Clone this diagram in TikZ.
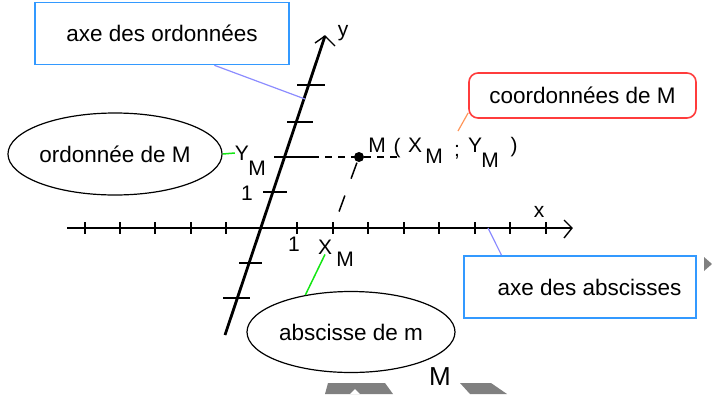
\documentclass[tikz,border=0pt]{standalone}
\usepackage{fontspec}
\setmainfont{Liberation Sans}
\usetikzlibrary{shapes.geometric,calc}
\definecolor{boxblue}{RGB}{51,153,255}
\definecolor{connblue}{RGB}{140,140,255}
\definecolor{boxred}{RGB}{255,60,60}
\definecolor{connorange}{RGB}{255,150,90}
\definecolor{conngreen}{RGB}{20,230,20}
\definecolor{shapegray}{RGB}{128,128,128}
\tikzset{
  bigtxt/.style={font=\fontsize{22.5}{26}\selectfont},
  axtxt/.style={font=\fontsize{21}{24}\selectfont, inner sep=0pt},
  bluebox/.style={draw=boxblue, line width=1.6pt, bigtxt, inner sep=0pt},
  redbox/.style={draw=boxred, line width=1.6pt, rounded corners=9pt, bigtxt, inner sep=0pt},
  ovalbox/.style={ellipse, draw=black, line width=1.2pt, bigtxt, inner sep=0pt},
  bconn/.style={draw=connblue, line width=1.2pt},
  gconn/.style={draw=conngreen, line width=1.5pt},
  oconn/.style={draw=connorange, line width=1.2pt},
  yaxisline/.style={line width=2.8pt},
  xaxisline/.style={line width=2pt},
  tickline/.style={line width=1.6pt},
  headline/.style={line width=1.4pt},
  dashline/.style={line width=1.5pt, dash pattern=on 7pt off 6pt},
  slantdash/.style={line width=1.5pt, dash pattern=on 17pt off 18pt},
}
\begin{document}
\begin{tikzpicture}[x=1pt,y=-1pt]
\useasboundingbox (0,0) rectangle (712,394);
% boxes and ellipses
\node[bluebox, minimum width=254pt, minimum height=62pt] (ord) at (162,33.5) {axe des ordonnées};
\node[redbox, minimum width=227pt, minimum height=45pt] (coord) at (582.5,95.5) {coordonnées de M};
\node[bluebox, minimum width=232pt, minimum height=62pt] (abs) at (580,287) {\hspace{19pt}axe des abscisses};
\node[ovalbox, minimum width=206pt, minimum height=82pt] (ordM) at (115,154) {ordonnée de M};
\node[ovalbox, minimum width=208pt, minimum height=81pt] (absM) at (351,332) {abscisse de m};
% axes
\coordinate (ybot) at (225,335);
\coordinate (ytop) at (325,36);
\coordinate (xleft) at (67,228);
\coordinate (xright) at (572,228);
\draw[yaxisline] (ybot) -- (ytop);
\draw[headline] (315,43) -- (ytop) -- (335,46);
\draw[xaxisline] (xleft) -- (xright);
\draw[headline] (564,220) -- (xright) -- (564,238);
% y ticks
\draw[tickline] (297,85) -- (325,85);
\draw[tickline] (287,122) -- (313,122);
\draw[tickline] (274,157) -- (312,157);
\draw[tickline] (263,192) -- (287,192);
\draw[tickline] (239,263) -- (262,263);
\draw[tickline] (223,298) -- (250,298);
% x ticks
\foreach \t in {85,120,155,191,226,297,333,368,404,439,475,510,546}
  \draw[tickline] (\t,222) -- (\t,234);
% axis labels
\node[axtxt] (ylab) at (343,33) {y};
\node[axtxt] (xlab) at (539,212) {x};
\node[axtxt] (one1) at (247,193) {1};
\node[axtxt] (one2) at (294,244) {1};
\node[axtxt] (YMy) at (242,153) {Y};
\node[axtxt] (YMm) at (257,168) {M};
\node[axtxt] (XMx) at (325,247) {X};
\node[axtxt] (XMm) at (345,259) {M};
% point M
\node[circle, fill=black, minimum size=10pt, inner sep=0pt] (mdot) at (359,157) {};
\coordinate (xM) at (333,228);
\draw[dashline] (312,157) -- (400,157);
\draw[slantdash] ($(mdot)!0.08!(xM)$) -- (xM);
\node[axtxt] (pM) at (377,145) {M};
\node[axtxt] (pO) at (397,148) {(};
\node[axtxt] (pX) at (415,145) {X};
\node[axtxt] (pXm) at (434,156) {M};
\node[axtxt] (pS) at (457,152) {;};
\node[axtxt] (pY) at (475,145) {Y};
\node[axtxt] (pYm) at (490,160) {M};
\node[axtxt] (pC) at (514,147) {)};
% connectors
\coordinate (yaxpt) at (305,99);
\draw[bconn] ($(ord.south west)!0.705!(ord.south east)$) -- (yaxpt);
\coordinate (xaxpt) at (488,228);
\draw[bconn] ($(abs.north west)!0.164!(abs.north east)$) -- (xaxpt);
\coordinate (orangeend) at (458,131);
\draw[oconn] ($(coord.south west)+(0,-6)$) -- (orangeend);
\draw[gconn] (ordM.east) -- (YMy.west);
\draw[gconn] (absM.141) -- (XMx.south);
% bottom decorations
\node[font=\fontsize{26}{30}\selectfont, inner sep=0pt] (bigM) at (440,377) {M};
\fill[shapegray] (328,383) -- (385,383) -- (393,394) -- (325,394) -- cycle;
\fill[white] (350,394) -- (355,389) -- (360,394) -- cycle;
\fill[shapegray] (460,383) -- (491,383) -- (507,394) -- (470,394) -- cycle;
\fill[shapegray] (704,257) -- (712,264) -- (704,271) -- cycle;
\end{tikzpicture}
\end{document}
